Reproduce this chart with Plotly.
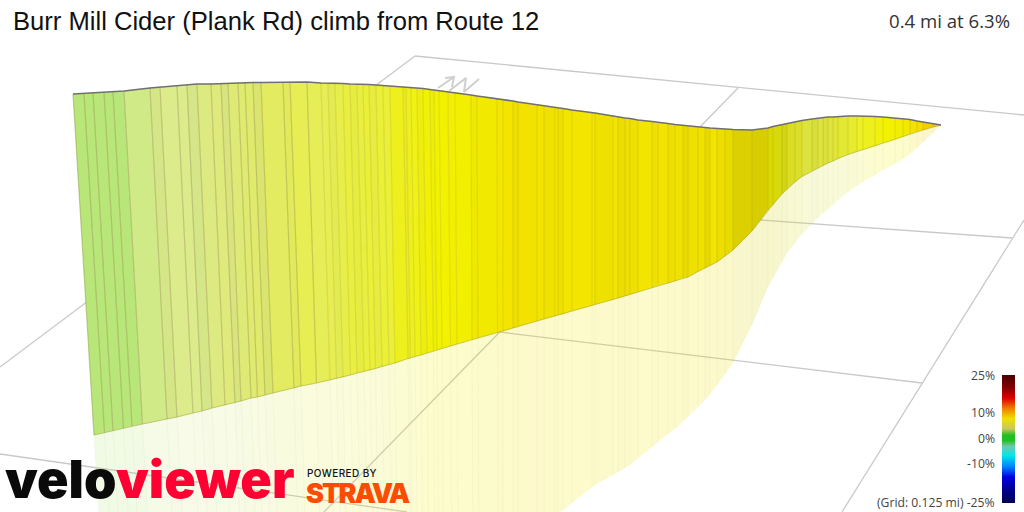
import numpy as np
import plotly.graph_objects as go

title = "Burr Mill Cider (Plank Rd) climb from Route 12"
summary = "0.4 mi at 6.3%"
legend_labels = ["25%", "10%", "0%", "-10%", "(Grid: 0.125 mi) -25%"]
legend_rows = [375, 412, 438, 463, 502]

# wall profile in the picture's own projected units
top_x = [73,84,93,104,113,124,150,160,177,187,197,211,221,228,238,245,253,261,283,290,307,321,328,335,343,350,357,363,369,376,383,390,403,406,411,417,423,430,434,439,448,455,471,477,497,503,513,518,537,544,555,558,563,572,592,595,613,618,625,630,638,652,658,668,675,683,688,698,705,710,717,725,733,752,768,773,782,787,795,802,812,818,823,828,833,838,848,857,863,875,883,895,903,910,917,923,933,941]
top_y = [94,93.5,93,92.5,92,91,88,87,86,85,84,84,83.5,83.5,83,83,82.5,82.5,82.5,82,82,83,83,83,83.5,84,84,84.5,84.5,85,85.5,86,87,87,87.5,88,88.5,89.5,90,90.5,91.5,92.5,95,96,98.5,99.5,101,102,104.5,105.5,107.5,108,108.5,110,112.5,113,116,117,118,118.5,120,121.5,122.5,123.5,124.5,125.5,126,127,127.5,128,128.5,129,129.5,130,128,126.5,124.5,123.5,121.5,120.5,119,118,117.5,117,117,116.5,116,116,116,116.5,117,118,119,119.5,121,122,124,125]
base_x = [94,104.5,113,123.5,132,142.5,167,177,193,202,212,225,235,241,251,257.5,265,273,294,301,316.5,330,336.5,343,350.5,357,364,370,375.5,382,389,395,408,410.5,415,421,427,433.5,437,442,450.5,457,472,478,497.5,503,513,518,537,544,555,558,563,572,592,595,613,618,625,630,638,652,658,668,675,683,688,698,705,710,717,725,733,752,768,773,782,787,795,802,812,818,823,828,833,838,848,857,863,875,883,895,903,910,917,923,933,941]
base_y = [435,432.6,430.5,428,426,424,419,417,413,411,408,405,402.5,401,398,397,395,393,388,386,383,380,378.5,377,375,373,371.5,370,368.5,366.5,364.5,363,358.5,358,356.5,355,353,351,350,348.5,346,344,339.5,338,332.5,331,328,326.5,321,319,316,315,314,311,305.5,304.5,299.5,298,296,294.5,292,287.5,285.5,283,281,278,277,271.5,268,265.5,262,256,250,231,210,204.5,194,189,182,176.5,171,168,165.5,163,161,158.5,154.5,151.5,149.5,146,143,139.5,136.5,134,131.5,130,127,125]
shadow_x = [111,120,129,138,147,157,180,190,205,214,223,235,245,251,260,266,274,281,301,308,322,336,342,348,355,362,369,374,379,386,393,398,411,413,418,423,429,435,439,444,452,458,473,479,498,503,513,518,537,544,555,558,563,572,592,595,613,618,625,630,638,652,658,668,675,683,688,698,705,710,717,725,733,752,768,773,782,787,795,802,812,818,823,828,833,838,848,857,863,875,883,895,903,910,917,923,933,941]
shadow_y = [695,691,688,685,682,678,670,666,660,657,654,649,646,644,640,638,635,632,625,623,617,612,610,608,605,603,600,598,596,594,592,590,585,584,583,581,579,576,575,573,570,568,563,561,554,552,544,540,525,520,516,514,510,503,487,485,475,472,468,465,458,447,442,434,429,421.5,417,407,400,394.5,385,374,363,325,287,278,262,253,243,234,224,218,213,209,205,200,192,186,182,175,170,164,159,154,148,142,133,125]

# one grade and one light level for each strip between neighbouring columns
strip_grade = [2.0,2.0,2.1,2.0,2.1,3.4,3.7,3.8,3.8,3.7,4.0,4.1,4.0,4.2,4.3,4.4,4.3,4.7,4.8,5.0,4.9,5.0,5.0,5.1,5.2,5.2,5.2,5.3,5.2,5.3,5.3,5.6,5.5,5.6,5.7,5.8,5.9,5.9,6.0,6.0,6.1,6.2,6.3,6.8,7.0,7.2,7.3,7.5,7.3,7.3,7.2,7.2,7.2,7.2,7.0,7.1,7.2,7.2,7.3,7.2,7.2,7.2,7.3,7.3,7.2,7.2,7.2,7.3,7.2,7.3,7.2,7.2,7.2,7.0,6.0,5.8,5.7,5.5,5.4,5.2,5.2,5.2,5.2,5.2,5.3,5.3,5.4,5.5,5.6,5.8,6.0,6.3,6.8,7.5,8.0,8.6,9.0]
strip_light = [1,1,1,1,1,1,.98,1,1,.98,1,1,.98,1,1,1,.98,1,.99,1,1,1,.99,1,1,.99,1,1,.99,1,1,1,.98,1,1,.99,1,.99,1,1,1,1,.98,1,1,1,.98,1,1,.99,1,.98,1,1,1,.98,1,.97,.98,.98,1,.98,1,.98,.99,.96,.98,.99,.95,1,.97,.96,.91,.89,.90,.90,.88,.92,.93,.95,.93,.96,.94,.96,.96,.97,.98,1,1,1,1,1,1,1,1,1,1]

# grid lines and the north sign, in the same projected units
grid_ax = [415,0,None,415,1024,None,738,324,None,1024,842,None,110,922,None,300,1012,None,0,407]
grid_ay = [56,367,None,56,115,None,88,512,None,220,512,None,285,383,None,187,238,None,454,512]
north_x = [438,454,None,445,454,452,None,449,466,464,479]
north_y = [88,77,None,78,77,87,None,91,78,92,79]

grade_stops = [2.0,3.4,3.8,4.4,5.0,5.4,6.0,7.2,8.0,9.0]
stop_red = [184,208,220,224,230,236,242,243,245,240]
stop_green = [230,234,235,234,238,240,242,229,220,200]
stop_blue = [120,136,140,108,84,46,0,0,0,0]

bar_scale = [[0,"#4a0000"],[.09,"#800000"],[.18,"#e00000"],[.26,"#f08000"],[.34,"#f0e000"],[.42,"#c8c860"],[.47,"#20c020"],[.51,"#20c020"],[.56,"#70c8b0"],[.63,"#00e8e8"],[.72,"#0080ff"],[.80,"#0000e0"],[.90,"#000090"],[1,"#000050"]]

def strip_rgb(grade, light):
    r = np.interp(grade, grade_stops, stop_red) * light
    g = np.interp(grade, grade_stops, stop_green) * light
    b = np.interp(grade, grade_stops, stop_blue) * light
    return int(r), int(g), int(b)

fig = go.Figure()

fig.add_trace(go.Scatter(x=grid_ax, y=grid_ay, mode="lines", line=dict(color="#c9c9c9", width=1.3), hoverinfo="skip"))
fig.add_trace(go.Scatter(x=north_x, y=north_y, mode="lines", line=dict(color="#cfcfcf", width=2), hoverinfo="skip"))

for i in range(len(strip_grade)):
    r, g, b = strip_rgb(strip_grade[i], strip_light[i])
    fig.add_trace(go.Scatter(
        x=[base_x[i], base_x[i+1], shadow_x[i+1], shadow_x[i], base_x[i]],
        y=[base_y[i], base_y[i+1], shadow_y[i+1], shadow_y[i], base_y[i]],
        mode="lines", fill="toself", fillcolor=f"rgba({r},{g},{b},0.2)",
        line=dict(width=0), hoverinfo="skip"))

sx, sy = [], []
for i in range(len(base_x)):
    sx += [base_x[i], shadow_x[i], None]
    sy += [base_y[i], shadow_y[i], None]
fig.add_trace(go.Scatter(x=sx, y=sy, mode="lines", line=dict(color="rgba(170,170,120,0.07)", width=1), hoverinfo="skip"))

for i in range(len(strip_grade)):
    r, g, b = strip_rgb(strip_grade[i], strip_light[i])
    c = f"rgb({r},{g},{b})"
    fig.add_trace(go.Scatter(
        x=[top_x[i], top_x[i+1], base_x[i+1], base_x[i], top_x[i]],
        y=[top_y[i], top_y[i+1], base_y[i+1], base_y[i], top_y[i]],
        mode="lines", fill="toself", fillcolor=c,
        line=dict(width=0.4, color=c), hoverinfo="skip"))

wx_pale, wy_pale, wx_bright, wy_bright = [], [], [], []
for i in range(len(top_x)):
    if top_x[i] < 310:
        wx_pale += [top_x[i], base_x[i], None]
        wy_pale += [top_y[i], base_y[i], None]
    else:
        wx_bright += [top_x[i], base_x[i], None]
        wy_bright += [top_y[i], base_y[i], None]
fig.add_trace(go.Scatter(x=wx_pale, y=wy_pale, mode="lines", line=dict(color="rgba(130,110,50,0.3)", width=1.2), hoverinfo="skip"))
fig.add_trace(go.Scatter(x=wx_bright, y=wy_bright, mode="lines", line=dict(color="rgba(160,140,0,0.2)", width=1.2), hoverinfo="skip"))
fig.add_trace(go.Scatter(x=base_x, y=base_y, mode="lines", line=dict(color="rgba(150,150,40,0.45)", width=1), hoverinfo="skip"))
fig.add_trace(go.Scatter(x=top_x, y=top_y, mode="lines", line=dict(color="#707074", width=1.7), hoverinfo="skip"))

rows = list(range(375, 504))
fig.add_trace(go.Heatmap(x=[1002, 1015], y=rows,
                         z=[[(v - 375) / 127] for v in rows[:-1]],
                         colorscale=bar_scale, showscale=False, zmin=0, zmax=1, hoverinfo="skip"))

def note(x, y, text, size, color, family="Open Sans", anchor="left", weight=None, spacing=None):
    shown = text if spacing is None else f'<span style="letter-spacing:{spacing}px">{text}</span>'
    fig.add_annotation(x=x, y=y, xref="x", yref="y", text=shown, showarrow=False,
                       xanchor=anchor, yanchor="middle", align=anchor,
                       font=dict(size=size, color=color, family=family, weight=weight))

note(11, 21, title, 25.6, "#111111", "Liberation Sans")
note(1012, 20, summary, 18.6, "#333333", "Open Sans", "right")
for row, label in zip(legend_rows, legend_labels):
    note(997, row, label, 12.2, "#444444", "Open Sans", "right")

note(3, 479.5, "velo", 52, "#0a0a0a", "Inter", weight=900)
note(114, 479.5, "viewer", 52, "#ff0033", "Inter", weight=900)
note(305, 473, "POWERED BY", 10, "#111111", "Inter", weight=500, spacing=0.4)
note(304, 493, "STRAVA", 27, "#fc4c02", "Inter", weight=900, spacing=-2)

fig.update_layout(
    width=1024, height=512, margin=dict(l=0, r=0, t=0, b=0),
    paper_bgcolor="white", plot_bgcolor="white", showlegend=False,
    xaxis=dict(range=[0, 1024], visible=False, fixedrange=True),
    yaxis=dict(range=[512, 0], visible=False, fixedrange=True),
)
fig.write_html("out.html", post_script="document.body.style.margin='0';document.body.style.overflow='hidden';",
               config=dict(displayModeBar=False))
